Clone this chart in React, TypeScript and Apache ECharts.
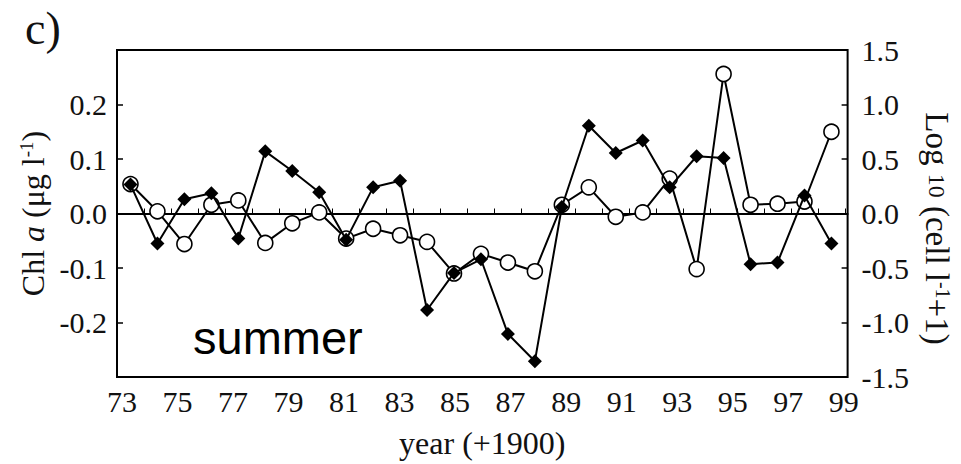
import React, { useEffect, useRef } from 'react';
import * as echarts from 'echarts';

// Years of the observations (x, year - 1900)
const years = [73, 74, 75, 76, 77, 78, 79, 80, 81, 82, 83, 84, 85, 86, 87, 88, 89, 90, 91, 92, 93, 94, 95, 96, 97, 98, 99];
// Filled diamonds: Chl a anomaly (µg l-1), left axis
const chlA = [0.053, -0.055, 0.026, 0.037, -0.046, 0.114, 0.078, 0.039, -0.048, 0.048, 0.06, -0.177, -0.109, -0.084, -0.221, -0.271, 0.012, 0.161, 0.111, 0.134, 0.048, 0.105, 0.102, -0.093, -0.09, 0.033, -0.055];
// Open circles: Log10 (cell l-1 + 1) anomaly, right axis
const cells = [0.27, 0.02, -0.28, 0.08, 0.12, -0.27, -0.09, 0.01, -0.23, -0.14, -0.2, -0.26, -0.55, -0.37, -0.45, -0.53, 0.08, 0.24, -0.03, 0.01, 0.32, -0.51, 1.28, 0.08, 0.09, 0.11, 0.75];
// Tick labels of the bottom axis
const xTickLabels = [73, 75, 77, 79, 81, 83, 85, 87, 89, 91, 93, 95, 97, 99];

const SERIF = '"Liberation Serif", "Times New Roman", serif';
const INK = '#111';

export default function App() {
  const ref = useRef<HTMLDivElement>(null);
  useEffect(() => {
    const chart = echarts.init(ref.current as HTMLDivElement, null, { renderer: 'svg' });
    const option: any = {
      animation: false,
      backgroundColor: '#fff',
      textStyle: { fontFamily: SERIF },
      grid: {
        left: 117, top: 50, width: 750, height: 333,
        show: true, borderColor: '#000', borderWidth: 2, backgroundColor: 'transparent',
      },
      xAxis: [
        {
          type: 'value', position: 'bottom', min: 72.5, max: 99.6, interval: 1,
          axisLine: { show: true, onZero: true, lineStyle: { color: '#000', width: 2 } },
          axisTick: { show: true, inside: true, length: 5, lineStyle: { color: '#000', width: 1 } },
          axisLabel: { show: false },
          splitLine: { show: false },
        },
        {
          type: 'value', position: 'bottom', min: 72.82, max: 99.14,
          axisLine: { show: false, onZero: false },
          axisTick: { show: false },
          splitLine: { show: false },
          axisLabel: { customValues: xTickLabels, fontSize: 30, color: INK, margin: 9, fontFamily: SERIF },
          name: 'year (+1900)', nameLocation: 'middle', nameGap: 50,
          nameTextStyle: { fontSize: 32, color: INK, fontFamily: SERIF },
        },
      ],
      yAxis: [
        {
          type: 'value', position: 'left', min: -0.3, max: 0.3, interval: 0.1,
          axisLine: { show: false },
          axisTick: { show: true, inside: true, length: 6, lineStyle: { color: '#000', width: 1.5 } },
          splitLine: { show: false },
          axisLabel: {
            fontSize: 30, color: INK, margin: 10, fontFamily: SERIF,
            formatter: (v: number) => (Math.abs(v) > 0.25 ? '' : v.toFixed(1)),
          },
          name: 'Chl {i|a} (μg l{s|-1})', nameLocation: 'middle', nameGap: 66, nameRotate: 90,
          nameTextStyle: {
            fontSize: 32, color: INK, fontFamily: SERIF,
            rich: {
              i: { fontSize: 32, fontStyle: 'italic', color: INK, fontFamily: SERIF },
              s: { fontSize: 19, color: INK, fontFamily: SERIF, verticalAlign: 'top' },
            },
          },
        },
        {
          type: 'value', position: 'right', min: -1.5, max: 1.5, interval: 0.5,
          axisLine: { show: false },
          axisTick: { show: true, inside: true, length: 6, lineStyle: { color: '#000', width: 1.5 } },
          splitLine: { show: false },
          axisLabel: {
            fontSize: 30, color: INK, margin: 14, fontFamily: SERIF,
            formatter: (v: number) => v.toFixed(1),
          },
          name: 'Log {sub|10} (cell l{s|-1}+1)', nameLocation: 'middle', nameGap: 72, nameRotate: -90,
          nameTextStyle: {
            fontSize: 33, color: INK, fontFamily: SERIF, padding: [0, 0, 0, 30],
            rich: {
              sub: { fontSize: 24, color: INK, fontFamily: SERIF },
              s: { fontSize: 20, color: INK, fontFamily: SERIF, verticalAlign: 'top' },
            },
          },
        },
      ],
      series: [
        {
          type: 'line', name: 'cells', xAxisIndex: 0, yAxisIndex: 1,
          data: years.map((y, i) => [y, cells[i]]),
          symbol: 'circle', symbolSize: 15, showAllSymbol: true,
          itemStyle: { color: '#fff', borderColor: '#000', borderWidth: 1.6 },
          lineStyle: { color: '#000', width: 2 },
          z: 2,
        },
        {
          type: 'line', name: 'chl', xAxisIndex: 0, yAxisIndex: 0,
          data: years.map((y, i) => [y, chlA[i]]),
          symbol: 'diamond', symbolSize: 14, showAllSymbol: true,
          itemStyle: { color: '#000' },
          lineStyle: { color: '#000', width: 2 },
          z: 3,
        },
      ],
      graphic: [
        { type: 'text', left: 25, top: 5, style: { text: 'c)', font: '46px "Liberation Serif"', fill: INK } },
        { type: 'text', left: 193, top: 314, style: { text: 'summer', font: '47px "Liberation Sans"', fill: '#000' } },
      ],
    };
    chart.setOption(option);
    return () => chart.dispose();
  }, []);
  return (
    <div
      ref={ref}
      style={{ position: 'absolute', left: 0, top: 0, width: 961, height: 464, background: '#fff' }}
    />
  );
}
